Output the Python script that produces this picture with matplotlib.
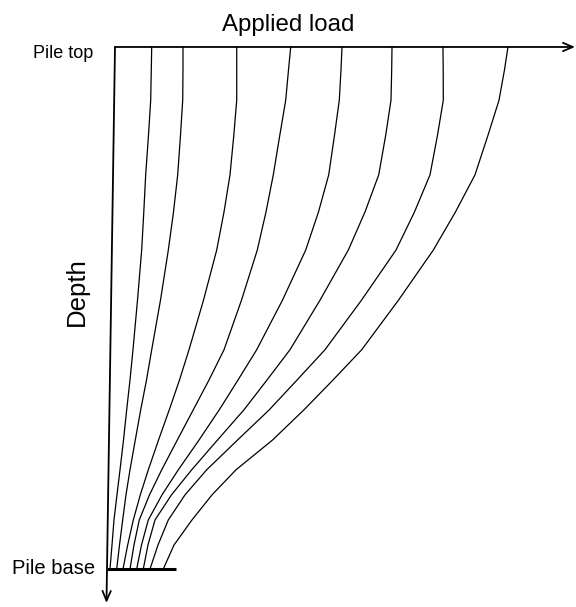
import matplotlib
matplotlib.use("Agg")
import matplotlib.pyplot as plt

plt.rcParams['font.family'] = ['Liberation Sans', 'DejaVu Sans']

# depth below pile top, % of pile length (0 = top, 100 = base)
depth = [0.0, 4.4, 10.2, 16.9, 24.5, 31.6, 38.9, 48.5, 58.0,
         63.8, 69.5, 75.3, 81.0, 85.8, 90.6, 95.4, 100.0]

# axial force in the pile at each depth, one list per applied load step
load_curves = [
    [7.98, 7.89, 7.76, 7.28, 6.67, 6.26, 5.80, 4.89, 3.91,
     3.26, 2.54, 1.85, 1.09, 0.43, -0.22, -0.65, -1.09],
    [14.78, 14.78, 14.72, 14.24, 13.63, 12.72, 11.59, 9.89, 7.98,
     6.85, 5.59, 4.41, 3.26, 2.39, 1.67, 0.98, 0.37],
    [26.46, 26.46, 26.46, 25.83, 25.00, 23.70, 22.11, 19.24, 16.09,
     14.02, 11.80, 9.46, 7.24, 5.50, 3.98, 2.76, 1.74],
    [38.20, 37.72, 37.11, 35.83, 34.41, 32.83, 30.93, 27.50, 23.70,
     20.43, 17.02, 13.54, 10.15, 7.50, 5.28, 4.13, 3.26],
    [49.35, 49.13, 48.76, 47.72, 46.46, 44.24, 41.46, 36.41, 30.80,
     26.74, 22.67, 18.26, 13.76, 10.22, 7.24, 5.76, 4.72],
    [60.22, 60.15, 60.00, 58.85, 57.33, 54.35, 50.72, 44.57, 38.04,
     33.04, 28.04, 22.28, 16.67, 12.28, 8.70, 7.17, 6.15],
    [71.30, 71.35, 71.37, 70.11, 68.48, 65.11, 61.09, 53.59, 45.65,
     39.57, 33.54, 26.63, 19.93, 15.22, 11.59, 9.35, 7.61],
    [85.43, 84.67, 83.48, 81.09, 78.26, 74.02, 69.20, 61.63, 53.63,
     47.39, 41.09, 34.24, 26.30, 21.09, 16.74, 12.83, 10.50],
]

load_axis_end = 100.0
depth_axis_end = 106.5
depth_axis_lean = -1.74   # axis drifts left slightly towards the base
base_plate_end = 13.26

fig = plt.figure(figsize=(5.76, 6.07), dpi=100)
ax = fig.add_axes([0, 0, 1, 1])
ax.set_xlim(-25.0, 100.22)
ax.set_ylim(107.28, -9.0)
ax.axis('off')

for loads in load_curves:
    ax.plot(loads, depth, color='black', lw=0.9, solid_joinstyle='round')

arrow = dict(arrowstyle='->,head_length=0.7,head_width=0.3',
             lw=1.3, color='black', shrinkA=0, shrinkB=0)
ax.annotate('', xy=(load_axis_end, 0.0), xytext=(0.0, 0.0), arrowprops=arrow)
ax.annotate('', xy=(depth_axis_lean * depth_axis_end / 100.0, depth_axis_end),
            xytext=(0.0, 0.0), arrowprops=arrow)

# pile base
ax.plot([depth_axis_lean, base_plate_end], [100.0, 100.0],
        color='black', lw=2.2, solid_capstyle='butt')

ax.text(37.6, -4.2, 'Applied load', fontsize=17.3, ha='center', va='center')
ax.text(-4.8, 1.2, 'Pile top', fontsize=13, ha='right', va='center')
ax.text(-4.4, 100.0, 'Pile base', fontsize=14.5, ha='right', va='center')
ax.text(-8.26, 46.9, 'Depth', fontsize=18.5, ha='center', va='center',
        rotation=90)

fig.savefig('out.png', dpi=100)
